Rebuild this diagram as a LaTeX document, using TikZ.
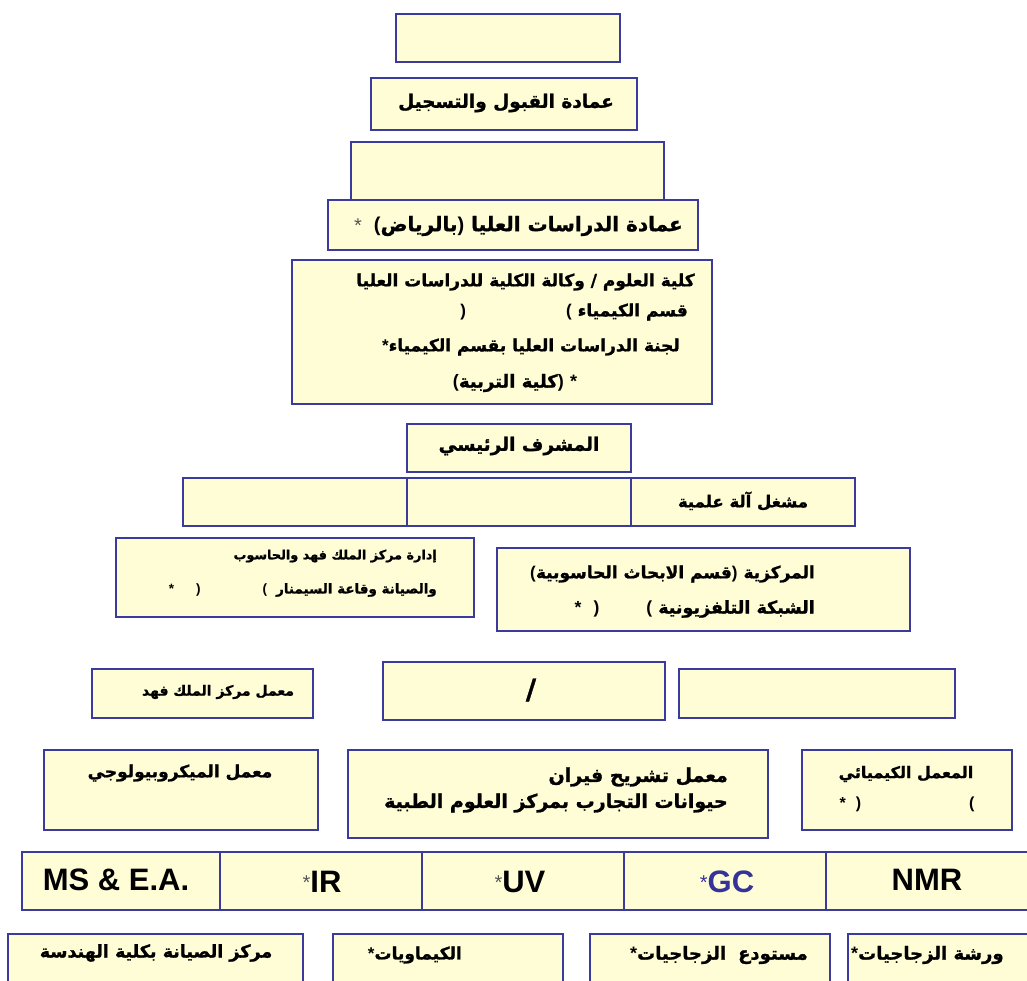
\documentclass[tikz,border=0pt]{standalone}
\usepackage{fontspec}
\setmainfont{Liberation Sans}
\newfontfamily\arfont[Script=Arabic,FakeBold=1.2]{DejaVu Sans Bold}
\TeXXeTstate=1
\newcommand\rtltext[1]{\beginR #1\endR}
\newcommand\arsize[1]{\arfont\fontsize{#1}{#1}\selectfont}
% brackets and stars set left to right in the Latin face
\newcommand\lpar{{\normalfont\bfseries(}}
\newcommand\rpar{{\normalfont\bfseries)}}
\newcommand\st{{\normalfont\bfseries*}}
\newcommand\smallst[1]{\raisebox{#1}{\normalfont\fontsize{20}{20}\selectfont\color{stargray}*}}
\definecolor{paper}{HTML}{FFFDD6}
\definecolor{frame}{HTML}{3B3B9E}
\definecolor{gcblue}{HTML}{333399}
\definecolor{stargray}{HTML}{555555}
\begin{document}
\begin{tikzpicture}[x=1pt,y=-1pt,
  box/.style={draw=frame,line width=1.5pt,fill=paper,inner sep=0pt},
  lbl/.style={inner sep=0pt,font=\arsize{#1}},
  lbl/.default=15,
  latin/.style={inner sep=0pt,font=\bfseries\fontsize{31}{31}\selectfont}]
\useasboundingbox (0,0) rectangle (1027,980);

% top of the hierarchy
\node[box,minimum width=224pt,minimum height=48pt] (b1) at (508,38) {};
\node[box,minimum width=266pt,minimum height=52pt] (b2) at (504,104) {};
\node[lbl=18.5] (t2) at (506,103) {\rtltext{عمادة القبول والتسجيل}};
\node[box,minimum width=313pt,minimum height=58pt] (b3) at (507.5,171) {};
\node[box,minimum width=370pt,minimum height=50pt] (b4) at (513,225) {};
\node[lbl=20,anchor=east] (t4) at (683,226) {\smallst{-1pt}\hspace{12pt}\lpar\rtltext{بالرياض}\rpar~\rtltext{عمادة الدراسات العليا}};

% college and department
\node[box,minimum width=420pt,minimum height=144pt] (b5) at (502,332) {};
\node[lbl=17,anchor=east] (t5a) at (695,282) {\rtltext{وكالة الكلية للدراسات العليا}~/~\rtltext{كلية العلوم}};
\node[lbl=17,anchor=east] (t5b) at (688,312) {\rpar\hspace{100pt}\lpar~\rtltext{قسم الكيمياء}};
\node[lbl=17,anchor=east] (t5c) at (680,347) {\st\rtltext{لجنة الدراسات العليا بقسم الكيمياء}};
\node[lbl=18] (t5d) at (515,383) {\lpar\rtltext{كلية التربية}\rpar~\st};

% supervisor
\node[box,minimum width=224pt,minimum height=48pt] (b6) at (519,448) {};
\node[lbl=18.5] (t6) at (519,446) {\rtltext{المشرف الرئيسي}};
\node[box,minimum width=224pt,minimum height=48pt] (c1) at (295,502) {};
\node[box,minimum width=224pt,minimum height=48pt] (c2) at (519,502) {};
\node[box,minimum width=224pt,minimum height=48pt] (c3) at (743,502) {};
\node[lbl=16.5] (t7) at (743,501) {\rtltext{مشغل آلة علمية}};

% computing and network services
\node[box,minimum width=358pt,minimum height=79pt] (b8) at (295,577.5) {};
\node[lbl=12.8,anchor=east] (t8a) at (437,556) {\rtltext{إدارة مركز الملك فهد والحاسوب}};
\node[lbl=13.5,anchor=east] (t8b) at (437,590) {\st\hspace{22pt}\rpar\hspace{62pt}\lpar\hspace{9pt}\rtltext{والصيانة وقاعة السيمنار}};
\node[box,minimum width=413pt,minimum height=83pt] (b9) at (703.5,589.5) {};
\node[lbl=17,anchor=east] (t9a) at (815,574) {\lpar\rtltext{قسم الابحاث الحاسوبية}\rpar~\rtltext{المركزية}};
\node[lbl=17.5,anchor=east] (t9b) at (815,609) {\st\hspace{12pt}\rpar\hspace{47pt}\lpar\hspace{6pt}\rtltext{الشبكة التلفزيونية}};

% laboratories
\node[box,minimum width=221pt,minimum height=49pt] (b10a) at (202.5,693.5) {};
\node[lbl=14] (t10a) at (218,692) {\rtltext{معمل مركز الملك فهد}};
\node[box,minimum width=282pt,minimum height=58pt] (b10b) at (524,691) {};
\node[lbl=28] (t10b) at (531,690) {/};
\node[box,minimum width=276pt,minimum height=49pt] (b10c) at (817,693.5) {};

\node[box,minimum width=274pt,minimum height=80pt] (b11a) at (181,790) {};
\node[lbl=17] (t11a) at (180,773) {\rtltext{معمل الميكروبيولوجي}};
\node[box,minimum width=420pt,minimum height=88pt] (b11b) at (558,794) {};
\node[lbl=19,anchor=east] (t11b1) at (728,777) {\rtltext{معمل تشريح فيران}};
\node[lbl=19,anchor=east] (t11b2) at (728,803) {\rtltext{حيوانات التجارب بمركز العلوم الطبية}};
\node[box,minimum width=210pt,minimum height=80pt] (b11c) at (907,790) {};
\node[lbl=16] (t11c1) at (906,774) {\rtltext{المعمل الكيميائي}};
\node[lbl=16] (t11c2) at (907,804) {\st\hspace{10pt}\rpar\hspace{108pt}\lpar};

% instruments
\node[box,minimum width=198pt,minimum height=58pt] (i1) at (121,881) {};
\node[latin] (ti1) at (116,880) {MS \& E.A.};
\node[box,minimum width=202pt,minimum height=58pt] (i2) at (321,881) {};
\node[latin] (ti2) at (322,882) {\smallst{3pt}IR};
\node[box,minimum width=202pt,minimum height=58pt] (i3) at (523,881) {};
\node[latin] (ti3) at (520,882) {\smallst{3pt}UV};
\node[box,minimum width=202pt,minimum height=58pt] (i4) at (725,881) {};
\node[latin,text=gcblue] (ti4) at (727,882) {\raisebox{3pt}{\normalfont\fontsize{20}{20}\selectfont*}GC};
\node[box,minimum width=206pt,minimum height=58pt] (i5) at (929,881) {};
\node[latin] (ti5) at (927,880) {NMR};

% workshops and stores
\node[box,minimum width=295pt,minimum height=60pt] (w1) at (155.5,964) {};
\node[lbl=17.5] (tw1) at (156,953) {\rtltext{مركز الصيانة بكلية الهندسة}};
\node[box,minimum width=230pt,minimum height=60pt] (w2) at (448,964) {};
\node[lbl=17,anchor=east] (tw2) at (462,955) {\st\rtltext{الكيماويات}};
\node[box,minimum width=240pt,minimum height=60pt] (w3) at (710,964) {};
\node[lbl=18,anchor=east] (tw3) at (808,955) {\st\rtltext{مستودع\hspace{12pt}الزجاجيات}};
\node[box,minimum width=190pt,minimum height=60pt] (w4) at (943,964) {};
\node[lbl=18,anchor=west] (tw4) at (851,955) {\st\rtltext{ورشة الزجاجيات}};
\end{tikzpicture}
\end{document}
